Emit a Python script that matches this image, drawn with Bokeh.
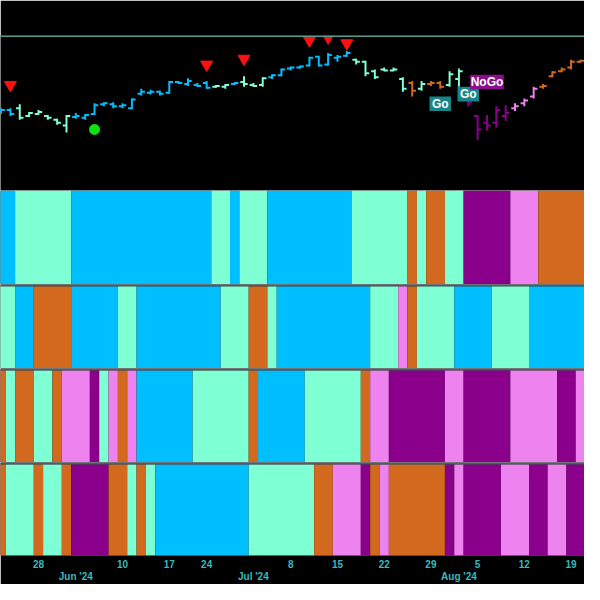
import pandas as pd
from bokeh.plotting import figure
from bokeh.models import Range1d, LinearAxis, FixedTicker, Label, Span
from bokeh.layouts import column
from bokeh.embed import file_html
from bokeh.resources import INLINE

# ---------------- data ----------------
holidays = ["2024-05-27", "2024-06-19", "2024-07-04"]
dates = [d.strftime("%Y-%m-%d") for d in pd.bdate_range("2024-05-21", "2024-08-21")
         if d.strftime("%Y-%m-%d") not in holidays]
idx = list(range(-4, len(dates) - 4))   # May 28 = 0

open_ = [533.5, 534, 535, 531, 532, 531, 529, 526, 530.5, 530, 532, 537, 537, 536, 535, 542.5,
         543, 543.5, 543, 548.5, 547.5, 547, 548, 546, 546, 547.5, 548.5, 547, 547, 551, 552, 555.5,
         556, 557, 561.5, 557.5, 561, 562, 560, 559, 554, 555, 554.5, 550, 548, 545, 547.5, 548,
         547, 550, 541, 531, 527.5, 527.5, 531, 535, 537.5, 541, 546, 551.5, 554, 556, 559, 560]
high = [535, 535, 537, 533, 534, 531.5, 529.5, 531.5, 532.5, 532, 537.5, 538, 538, 537.5, 540, 545,
        544.5, 544, 549, 549, 550.5, 548, 549, 547, 547.5, 548.5, 551.5, 548, 551, 552.5, 555.5, 556.5,
        557, 561.5, 562, 563.5, 562.5, 564.5, 560.5, 559.5, 555, 556, 556, 551, 549, 549, 549, 549,
        554, 555.5, 541.5, 531.5, 531.5, 536, 536.5, 537.5, 540, 546, 547.5, 554, 556, 560, 560, 561]
low = [532, 531, 529, 530.5, 531.5, 529, 526.5, 522.5, 529.5, 529, 531.5, 536, 535, 535, 534.5, 541.5,
       542, 541.5, 542.5, 547.5, 546.5, 546, 545, 545.5, 545, 547, 546, 546, 546, 550, 551.5, 554.5,
       555.5, 556.5, 556.5, 557, 559, 561.5, 557.5, 551.5, 550, 554, 554, 543.5, 541, 544, 546.5, 545,
       546, 546, 536, 518.5, 523.5, 525, 528.5, 533.5, 536, 540, 545, 551, 553.5, 555, 558.5, 558.5]
close = [534, 532, 530, 532.5, 533, 530, 527.5, 531, 531, 531.5, 536.5, 537.5, 536, 536.5, 539.5, 543.5,
         543.5, 542.5, 548.5, 548, 549, 546.5, 545.5, 546.5, 547, 548, 547.5, 546.5, 550.5, 552, 555, 556,
         556.5, 561, 557, 562.5, 561.5, 563.5, 559, 553, 551, 554.5, 555, 545, 544, 547.5, 548, 546,
         552.5, 554, 538, 524, 526, 534, 532.5, 536, 539, 545, 546.5, 553.5, 555, 559, 559.5, 560.5]

# GoNoGo trend codes per day (B strong go, A go, C weak nogo, V nogo, M strong nogo)
trend_1 = "BBAAAAAABBBBBBBBBBBBBBBAABAAABBBBBBBBBAAAAAACACCAAMMMMMVVVCCCCCC"
trend_2 = "AABBCCCCBBBBBAABBBBBBBBBAAACCABBBBBBBBBBAAAVCAAAABBBBAAAABBBBBBB"
trend_3 = "CACCAACVVVMAVCVBBBBBBAAAAAACBBBBBAAAAAACVVMMMMMMVVMMMMMVVVVVMMVV"
trend_4 = "CAAACAACMMMMCCACABBBBBBBBBBAAAAAAACCVVVMCVCCCCCCMVMMMMVVVMMVVMMM"

sell_dates = ["2024-05-22", "2024-06-24", "2024-06-28", "2024-07-10", "2024-07-12", "2024-07-16"]
sell_price = [547, 557.5, 560.5, 570, 571.5, 568.5]
buy_dates = ["2024-06-05"]
buy_price = [524]
tag_dates = ["2024-07-30", "2024-08-02", "2024-08-06"]
tag_price = [537.25, 542.25, 548.5]
tag_text = ["Go", "Go", "NoGo"]
tag_fill = ["#17858a", "#17858a", "#8b0f8b"]
tag_w = [2.3, 2.3, 3.6]

day_tick_dates = ["2024-05-28", "2024-06-10", "2024-06-17", "2024-06-24", "2024-07-08", "2024-07-15",
                  "2024-07-22", "2024-07-29", "2024-08-05", "2024-08-12", "2024-08-19"]
day_tick_labels = ["28", "10", "17", "24", "8", "15", "22", "29", "5", "12", "19"]
month_tick_dates = ["2024-06-03", "2024-07-01", "2024-08-01"]
month_tick_labels = ["Jun '24", "Jul '24", "Aug '24"]

palette = {"B": "#00BFFF", "A": "#7FFFD4", "C": "#D2691E", "V": "#EE82EE", "M": "#8B008B"}

# ---------------- helpers ----------------
pos = {d: i for d, i in zip(dates, idx)}
xr = Range1d(-4.0625, 58.4375)
BG = "black"


def base_fig(h, yr, top=0):
    f = figure(width=584, height=h, x_range=xr, y_range=yr, output_backend="svg",
               toolbar_location=None, x_axis_location=None, y_axis_location=None,
               min_border_left=0, min_border_right=0, min_border_top=top, min_border_bottom=0,
               background_fill_color=BG, border_fill_color=BG, outline_line_color=None)
    f.grid.visible = False
    return f


def runs(codes):
    """group consecutive equal trend codes into (left, right, colour) blocks"""
    left, right, col = [], [], []
    start = 0
    for j in range(1, len(codes) + 1):
        if j == len(codes) or codes[j] != codes[start]:
            left.append(idx[start] - 0.5)
            right.append(idx[j - 1] + 0.5)
            col.append(palette[codes[start]])
            start = j
    return left, right, col


# ---------------- price panel ----------------
p = base_fig(190, Range1d(492.5, 572.5), top=35)
bar_cols = [palette[c] for c in trend_1]
tick = 0.4
lw = 2
p.segment(x0=idx, y0=low, x1=idx, y1=high, line_color=bar_cols, line_width=lw)
p.segment(x0=[i - tick for i in idx], y0=open_, x1=idx, y1=open_, line_color=bar_cols, line_width=lw)
p.segment(x0=idx, y0=close, x1=[i + tick for i in idx], y1=close, line_color=bar_cols, line_width=lw)

p.scatter(x=[pos[d] for d in sell_dates], y=sell_price, marker="inverted_triangle",
          size=12, fill_color="#ff1010", line_color="#ff1010")
p.scatter(x=[pos[d] for d in buy_dates], y=buy_price, marker="circle",
          size=10, fill_color="#10e010", line_color="#10e010")

tx = [pos[d] for d in tag_dates]
p.rect(x=tx, y=tag_price, width=tag_w, height=7.5, fill_color=tag_fill, line_color=None)
p.text(x=tx, y=tag_price, text=tag_text, text_color="white", text_font_size="12px",
       text_font_style="bold", text_align="center", text_baseline="middle")

p.add_layout(Span(location=572, dimension="width", line_color="#5a9a8c", line_width=1.2))
p.add_layout(Label(x=54.6, y=575.5, text="O:", text_color="#a0a0a0", text_font_size="10px",
                   text_baseline="middle", text_align="right", text_font="Liberation Sans"))
p.add_layout(Label(x=58.2, y=575.5, text="559.15", text_color="#e8e8e8", text_font_size="10px",
                   text_baseline="middle", text_align="right", text_font="Liberation Sans"))

# ---------------- trend bands ----------------
figs = [p]
band_specs = [(trend_1, 94, False), (trend_2, 84, True), (trend_3, 94, True), (trend_4, 122, True)]
for k, (codes, h, sep) in enumerate(band_specs):
    last = k == len(band_specs) - 1
    f = base_fig(h, Range1d(0, 1.02 if sep else 1.0))
    l, r, c = runs(codes)
    f.quad(left=l, right=r, bottom=0, top=1, fill_color=c, line_color=None)
    if sep:
        f.add_layout(Span(location=1.01, dimension="width", line_color="#4d5c66", line_width=2))
    if last:
        ax_day = LinearAxis(ticker=FixedTicker(ticks=[pos[d] for d in day_tick_dates]),
                            major_label_overrides={pos[d]: t for d, t in zip(day_tick_dates, day_tick_labels)})
        ax_mon = LinearAxis(ticker=FixedTicker(ticks=[pos[d] for d in month_tick_dates]),
                            major_label_overrides={pos[d]: t for d, t in zip(month_tick_dates, month_tick_labels)})
        for ax, so in ((ax_day, 4), (ax_mon, 0)):
            ax.axis_line_color = None
            ax.major_tick_line_color = None
            ax.minor_tick_line_color = None
            ax.major_tick_out = 0
            ax.major_tick_in = 0
            ax.major_label_standoff = so
            ax.major_label_text_color = "#3cb8bc"
            ax.major_label_text_font_size = "10px"
            ax.major_label_text_font = "Liberation Sans"
            ax.major_label_text_font_style = "bold"
            f.add_layout(ax, "below")
    figs.append(f)

layout = column(*figs, spacing=0)
open("out.html", "w").write(file_html(layout, INLINE))
